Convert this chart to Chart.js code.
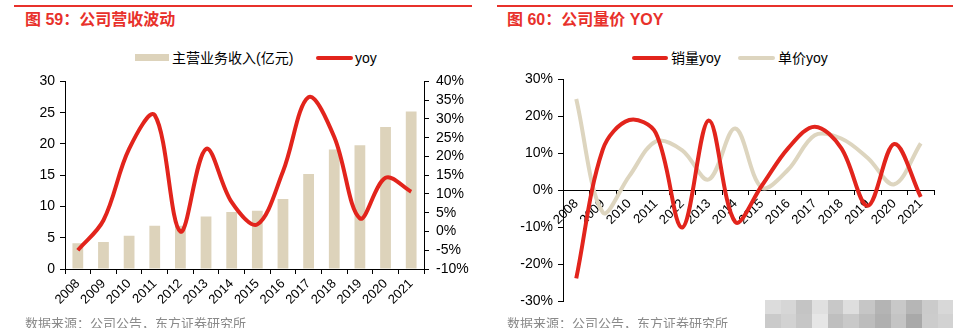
<!DOCTYPE html>
<html>
<head>
<meta charset="utf-8">
<script src="https://cdn.jsdelivr.net/npm/chart.js@4.4.1/dist/chart.umd.min.js"></script>
<style>
  body { margin: 0; width: 953px; height: 328px; overflow: hidden; background: #fff; position: relative;
         font-family: "Liberation Sans", Arial, "Noto Sans CJK SC", sans-serif; }
  .rule { position: absolute; top: 5px; height: 2px; background: #e8312b; }
  .title { position: absolute; top: 9px; font-size: 16px; font-weight: bold; color: #e8312b; line-height: 22px;
           font-family: "Liberation Sans", Arial, "Noto Sans CJK SC", sans-serif; }
  .source { position: absolute; top: 314px; font-size: 13px; color: #8a8a8a; line-height: 18px;
            font-family: "Noto Sans CJK SC", sans-serif; }
  .lg-text { position: absolute; top: 48px; font-size: 14px; line-height: 20px; color: #000; }
  .lg-mark { position: absolute; }
  canvas { position: absolute; }
  .mosaic { position: absolute; left: 765px; top: 300px; display: grid;
            grid-template-columns: repeat(12, 15.7px); grid-auto-rows: 14px; }
</style>
</head>
<body>
<div class="rule" style="left:14px;width:458px"></div>
<div class="rule" style="left:497px;width:456px"></div>
<div class="title" style="left:25px">图 59：公司营收波动</div>
<div class="title" style="left:507px">图 60：公司量价 YOY</div>

<!-- legends -->
<div class="lg-mark" style="left:135px;top:54px;width:34px;height:7px;background:#ddd3bb"></div>
<div class="lg-text" style="left:172px">主营业务收入(亿元)</div>
<div class="lg-mark" style="left:316px;top:56px;width:37px;height:4px;border-radius:2px;background:#e2241c"></div>
<div class="lg-text" style="left:355px">yoy</div>

<div class="lg-mark" style="left:632px;top:56px;width:36px;height:4px;border-radius:2px;background:#e2241c"></div>
<div class="lg-text" style="left:671px">销量yoy</div>
<div class="lg-mark" style="left:738px;top:56px;width:37px;height:4px;border-radius:2px;background:#ddd5bf"></div>
<div class="lg-text" style="left:778px">单价yoy</div>

<canvas id="revChart" style="left:0;top:66px" width="470" height="262"></canvas>
<canvas id="yoyChart" style="left:480px;top:66px" width="473" height="262"></canvas>

<div class="source" style="left:25px">数据来源：公司公告，东方证券研究所</div>
<div class="source" style="left:507px">数据来源：公司公告，东方证券研究所</div>
<div class="mosaic" id="mosaic"></div>

<script>
const years = ['2008', '2009', '2010', '2011', '2012', '2013', '2014', '2015', '2016', '2017', '2018', '2019', '2020', '2021'];

// revenue (亿元) and its growth, %
const revenue = [4.1, 4.3, 5.3, 6.9, 6.9, 8.4, 9.1, 9.3, 11.2, 15.2, 19.1, 19.8, 22.7, 25.2];
const revenueYoy = [-5.0, 3.0, 22.0, 31.0, 0.0, 22.0, 7.8, 1.9, 16.0, 35.8, 25.2, 3.5, 14.3, 10.6];

// volume / unit price growth, %
const volumeYoy = [-23.9, 11.0, 19.0, 15.5, -10.1, 18.9, -8.6, 1.2, 11.4, 17.2, 11.4, -4.2, 12.5, -1.8];
const priceYoy = [24.7, -6.0, 3.8, 13.2, 10.8, 2.9, 16.7, 0.7, 5.6, 14.9, 14.0, 8.7, 1.6, 12.7];

const RED = '#e2241c';
const BEIGE_BAR = '#ddd3bb';
const BEIGE_LINE = '#ddd5bf';

Chart.defaults.font.family = '"Liberation Sans", Arial, sans-serif';
Chart.defaults.color = '#000';
Chart.defaults.animation = false;

const axisGrid = { drawOnChartArea: false, drawTicks: true, tickLength: 5, color: '#000' };
const axisBorder = { color: '#000', width: 1 };

new Chart(document.getElementById('revChart'), {
    type: 'bar',
    data: {
        labels: years,
        datasets: [
            {
                type: 'line',
                label: 'yoy',
                data: revenueYoy,
                yAxisID: 'y1',
                borderColor: RED,
                borderWidth: 4,
                pointRadius: 0,
                tension: 0.35,
                order: 0
            },
            {
                label: '主营业务收入(亿元)',
                data: revenue,
                yAxisID: 'y',
                backgroundColor: BEIGE_BAR,
                categoryPercentage: 1,
                barPercentage: 0.42,
                order: 1
            }
        ]
    },
    options: {
        responsive: false,
        layout: { padding: { top: 11, right: 0, bottom: 0, left: 0 } },
        plugins: { legend: { display: false }, tooltip: { enabled: false } },
        scales: {
            x: {
                grid: axisGrid,
                border: axisBorder,
                ticks: { font: { size: 13 }, minRotation: 45, maxRotation: 45, padding: 2, autoSkip: false },
                afterFit: s => { s.height = 59; }
            },
            y: {
                position: 'left',
                min: 0, max: 30,
                grid: axisGrid,
                border: axisBorder,
                ticks: { stepSize: 5, font: { size: 14 }, padding: 5, autoSkip: false },
                afterFit: s => { s.width = 65; }
            },
            y1: {
                position: 'right',
                min: -10, max: 40,
                grid: axisGrid,
                border: axisBorder,
                ticks: { stepSize: 5, font: { size: 14 }, padding: 7, autoSkip: false, callback: v => v + '%' },
                afterFit: s => { s.width = 46; }
            }
        }
    }
});

new Chart(document.getElementById('yoyChart'), {
    type: 'line',
    data: {
        labels: years,
        datasets: [
            {
                label: '销量yoy',
                data: volumeYoy,
                borderColor: RED,
                borderWidth: 4,
                pointRadius: 0,
                tension: 0.35,
                order: 0
            },
            {
                label: '单价yoy',
                data: priceYoy,
                borderColor: BEIGE_LINE,
                borderWidth: 4,
                pointRadius: 0,
                tension: 0.35,
                order: 1
            }
        ]
    },
    options: {
        responsive: false,
        layout: { padding: { top: 10, right: 19, bottom: 27, left: 0 } },
        plugins: { legend: { display: false }, tooltip: { enabled: false } },
        scales: {
            x: {
                position: { y: 0 },
                offset: true,
                grid: { ...axisGrid, offset: true, tickLength: 4 },
                border: axisBorder,
                ticks: { font: { size: 13 }, minRotation: 45, maxRotation: 45, padding: 2, autoSkip: false }
            },
            y: {
                min: -30, max: 30,
                grid: axisGrid,
                border: axisBorder,
                ticks: { stepSize: 10, font: { size: 14 }, padding: 5, autoSkip: false, callback: v => v + '%' },
                afterFit: s => { s.width = 83; }
            }
        }
    }
});

// pixelated stamp in the lower right corner
const mosaicShades = [
    '#dcdcdc', '#d6d6d6', '#c4c4c4', '#e0e0e0', '#c8c8c8', '#dedede', '#c6c6c6', '#b4b4b4', '#c8c8c8', '#b6b6b6', '#cbcbcb', '#d8d8d8',
    '#cacaca', '#d2d2d2', '#c6c6c6', '#e6e6e6', '#bfbfbf', '#c9c9c9', '#bdbdbd', '#b0b0b0', '#c4c4c4', '#a9a9a9', '#cccccc', '#d2d2d2'
];
const mosaic = document.getElementById('mosaic');
mosaicShades.forEach(c => {
    const cell = document.createElement('div');
    cell.style.background = c;
    mosaic.appendChild(cell);
});
</script>
</body>
</html>
